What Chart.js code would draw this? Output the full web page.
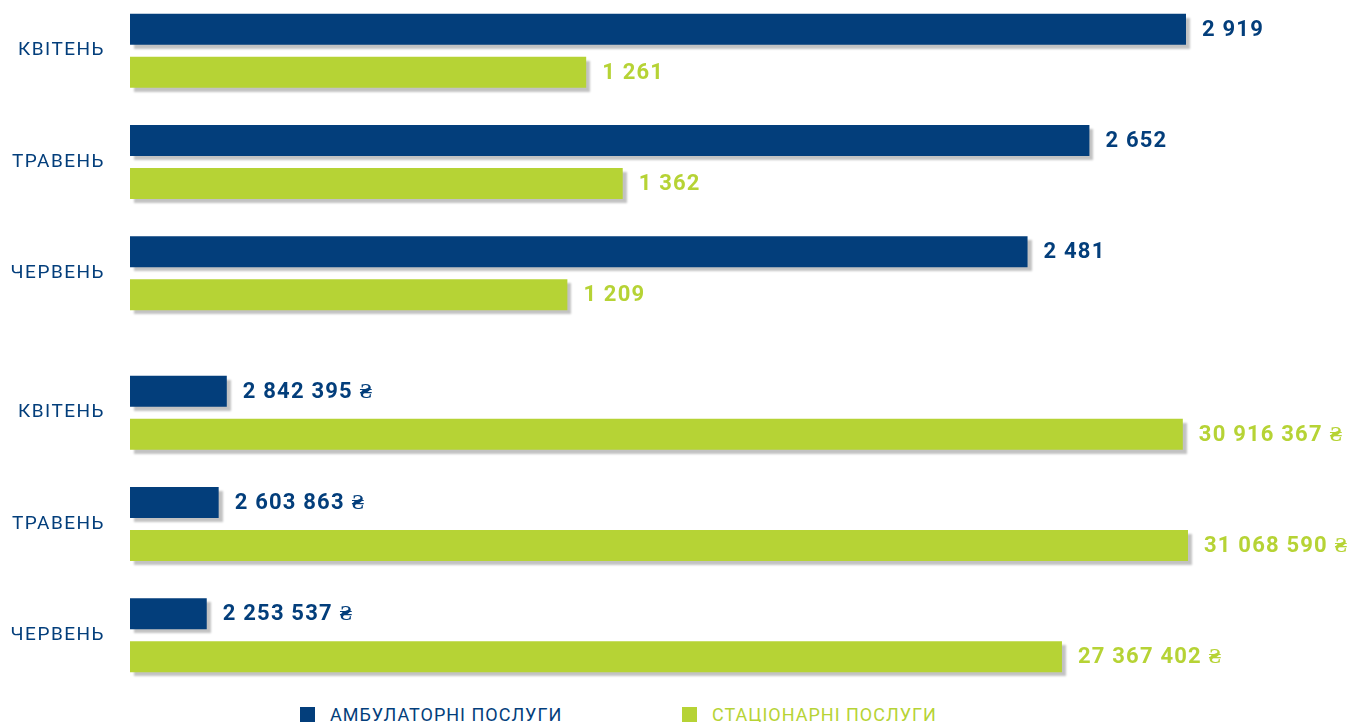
<!DOCTYPE html>
<html lang="uk">
<head>
<meta charset="utf-8">
<title>Амбулаторні та стаціонарні послуги</title>
<script src="https://cdn.jsdelivr.net/npm/chart.js@4"></script>
<style>
  html, body { margin: 0; padding: 0; background: #fff; }
  body { width: 1353px; height: 722px; position: relative; overflow: hidden; font-family: Roboto, sans-serif; }
  .box { position: absolute; left: 0; width: 1353px; }
  #top { top: -5px; height: 334px; }
  #bottom { top: 357px; height: 334px; }
  #legend { position: absolute; left: 300px; top: 704px; display: grid; grid-template-columns: 382px auto; }
  #legend span.item { display: flex; align-items: center; font-size: 18px; letter-spacing: 1px; }
  #legend i { display: inline-block; width: 15px; height: 15px; margin-right: 15px; }
</style>
</head>
<body>
<div class="box" id="top"><canvas id="countChart"></canvas></div>
<div class="box" id="bottom"><canvas id="sumChart"></canvas></div>
<div id="legend"></div>

<script>
const months = ["КВІТЕНЬ", "ТРАВЕНЬ", "ЧЕРВЕНЬ"];
const seriesNames = ["АМБУЛАТОРНІ ПОСЛУГИ", "СТАЦІОНАРНІ ПОСЛУГИ"];
const seriesColors = ["#033e7b", "#b6d335"];

// кількість послуг
const ambulatoryCount = [2919, 2652, 2481];
const inpatientCount = [1261, 1362, 1209];

// сума, грн
const ambulatorySum = [2842395, 2603863, 2253537];
const inpatientSum = [30916367, 31068590, 27367402];

function fmt(n) {
    return String(n).replace(/\B(?=(\d{3})+(?!\d))/g, ' ');
}

// трохи розріджений текст підписів місяців
const spacing = {
    id: 'spacing',
    beforeDraw(chart) {
        chart.ctx.letterSpacing = '1.5px';
    }
};

// сіра тінь під смугами
const barShadow = {
    id: 'barShadow',
    beforeDatasetsDraw(chart) {
        const ctx = chart.ctx;
        ctx.save();
        ctx.shadowColor = 'rgba(0,0,0,0.24)';
        ctx.shadowOffsetX = 4;
        ctx.shadowOffsetY = 4;
        ctx.shadowBlur = 2;
    },
    afterDatasetsDraw(chart) {
        chart.ctx.restore();
    }
};

// підписи значень праворуч від смуг
const valueLabels = {
    id: 'valueLabels',
    afterDraw(chart, args, opts) {
        const ctx = chart.ctx;
        ctx.save();
        ctx.font = 'bold 22px Roboto';
        ctx.letterSpacing = '1.2px';
        ctx.textBaseline = 'middle';
        ctx.textAlign = 'left';
        chart.data.datasets.forEach((ds, i) => {
            const meta = chart.getDatasetMeta(i);
            ctx.fillStyle = ds.backgroundColor;
            meta.data.forEach((bar, j) => {
                ctx.fillText(fmt(ds.data[j]) + (opts.suffix || ''), bar.x + 16, bar.y + 1);
            });
        });
        ctx.restore();
    }
};

function makeChart(id, a, b, suffix, padRight) {
    return new Chart(document.getElementById(id), {
        type: 'bar',
        data: {
            labels: months,
            datasets: [
                { label: seriesNames[0], data: a, backgroundColor: seriesColors[0], clip: false },
                { label: seriesNames[1], data: b, backgroundColor: seriesColors[1], clip: false }
            ]
        },
        options: {
            indexAxis: 'y',
            responsive: true,
            maintainAspectRatio: false,
            animation: false,
            categoryPercentage: 0.775,
            barPercentage: 0.72,
            layout: {
                padding: { left: 0, right: padRight, top: 0, bottom: 0 }
            },
            scales: {
                x: {
                    display: false,
                    min: 0,
                    max: Math.max(...a, ...b)
                },
                y: {
                    // відступ підписів робимо через довжину (невидимих) рисок,
                    // щоб вісь не додавала поля зверху і знизу
                    grid: { display: false, drawTicks: true, tickLength: 25 },
                    border: { display: false },
                    ticks: {
                        color: seriesColors[0],
                        padding: 0,
                        font: { family: 'Roboto', size: 19, lineHeight: 0.01 }
                    },
                    afterFit(scale) { scale.width = 130; }
                }
            },
            plugins: {
                legend: { display: false },
                tooltip: { enabled: false },
                valueLabels: { suffix: suffix }
            }
        },
        plugins: [spacing, barShadow, valueLabels]
    });
}

makeChart('countChart', ambulatoryCount, inpatientCount, '', 167);
const sumChart = makeChart('sumChart', ambulatorySum, inpatientSum, ' ₴', 165);

// легенда під графіком
const legendEl = document.getElementById('legend');
sumChart.data.datasets.forEach(ds => {
    const item = document.createElement('span');
    item.className = 'item';
    item.style.color = ds.backgroundColor;
    const sw = document.createElement('i');
    sw.style.background = ds.backgroundColor;
    item.appendChild(sw);
    item.appendChild(document.createTextNode(ds.label));
    legendEl.appendChild(item);
});
</script>
</body>
</html>
